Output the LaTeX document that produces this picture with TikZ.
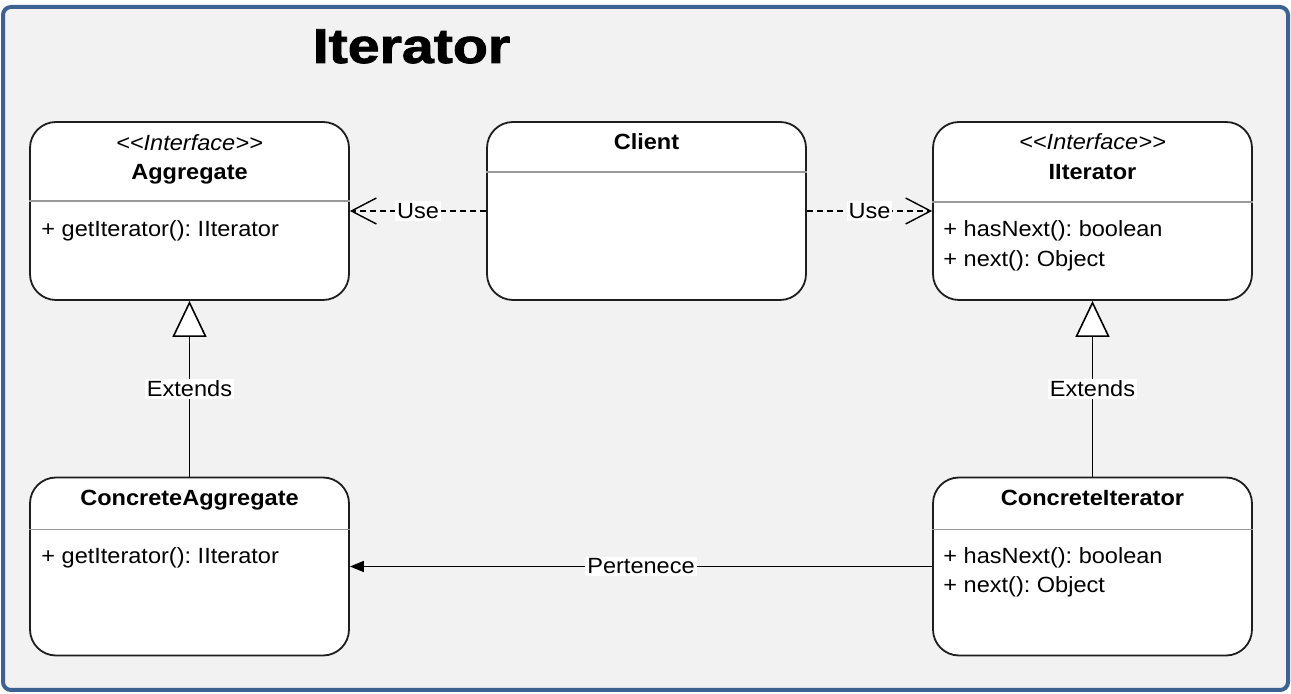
\documentclass[tikz,border=0pt]{standalone}
\usepackage{fontspec}
\usepackage{graphicx}
\usetikzlibrary{arrows.meta}
\setmainfont[FakeStretch=1.07]{Liberation Sans}
\newfontfamily\titlefont[FakeBold=1.6]{Liberation Sans Bold}
\newcommand{\umlsize}{\fontsize{11}{13}\selectfont}
\definecolor{framecolor}{HTML}{3D6190}
\definecolor{canvas}{HTML}{F2F2F2}
\definecolor{boxline}{HTML}{1E1E1E}
\definecolor{divline}{HTML}{9A9A9A}
\frenchspacing

\begin{document}
\begin{tikzpicture}[x=0.5pt, y=-0.5pt,
    classbox/.style={draw=boxline, fill=white, line width=0.9pt, rounded corners=13pt,
        minimum width=159.5pt, minimum height=89pt, inner sep=0pt},
    divider/.style={draw=divline, line width=0.7pt},
    stereo/.style={anchor=base, font=\umlsize\itshape},
    cname/.style={anchor=base, font=\umlsize\bfseries},
    member/.style={anchor=base west, inner sep=0pt, font=\umlsize},
    lbl/.style={fill=white, inner sep=1pt, font=\umlsize},
    usedep/.style={line width=0.7pt, dash pattern=on 3pt off 2pt,
        -{Straight Barb[length=12.5pt, width=13pt]}},
    extends/.style={line width=0.8pt, -{Triangle[open, fill=white, length=18pt, width=17pt]}},
    assoc/.style={line width=0.8pt, -{Triangle[length=7pt, width=5.5pt]}}]
            \useasboundingbox (0,0) rectangle (1291,694);

            % Draw frame and title
            \draw[framecolor, fill=canvas, line width=2pt, rounded corners=4pt] (3,7) rectangle (1288,690);
            \node[anchor=base, font=\fontsize{24.5}{28}\titlefont] (title) at (411.5,63) {\scalebox{1.17}[1]{Iterator}};

            % Class boxes
            \node[classbox] (aggr) at (189.5,211) {};
            \node[classbox] (client) at (646.5,211) {};
            \node[classbox] (iiter) at (1092.5,211) {};
            \node[classbox] (concaggr) at (189.5,566.5) {};
            \node[classbox] (conciter) at (1092.5,566.5) {};

            % Compartment lines
            \foreach \n/\d in {aggr/40pt, client/25.5pt, iiter/40.5pt, concaggr/26.5pt, conciter/26.5pt} {
                \draw[divider] ([yshift=-\d]\n.north west) -- ([yshift=-\d]\n.north east);
            }

            % Names
            \node[stereo] (aggrst) at (189.5,151) {{<}{<}Interface{>}{>}};
            \node[cname] (aggrname) at (189.5,180) {Aggregate};
            \node[cname] (clientname) at (646.5,150) {Client};
            \node[stereo] (iiterst) at (1092.5,150) {{<}{<}Interface{>}{>}};
            \node[cname] (iitername) at (1092.5,180) {IIterator};
            \node[cname] (concaggrname) at (189.5,506) {ConcreteAggregate};
            \node[cname] (conciternname) at (1092.5,506) {ConcreteIterator};

            % Members
            \node[member] (aggrop) at (41,237) {+ getIterator(): IIterator};
            \node[member] (iiterop1) at (943,237) {+ hasNext(): boolean};
            \node[member] (iiterop2) at (943,267) {+ next(): Object};
            \node[member] (concaggrop) at (41,564) {+ getIterator(): IIterator};
            \node[member] (conciterop1) at (943,564) {+ hasNext(): boolean};
            \node[member] (conciterop2) at (943,593) {+ next(): Object};

            % Relations
            \draw[usedep] (client.west) -- node[lbl] {Use} (aggr.east);
            \draw[usedep] (client.east) -- node[lbl] {Use} (iiter.west);
            \draw[extends] (concaggr.north) -- node[lbl] {Extends} (aggr.south);
            \draw[extends] (conciter.north) -- node[lbl] {Extends} (iiter.south);
            \draw[assoc] (conciter.west) -- node[lbl] {Pertenece} (concaggr.east);
        \end{tikzpicture}
\end{document}
